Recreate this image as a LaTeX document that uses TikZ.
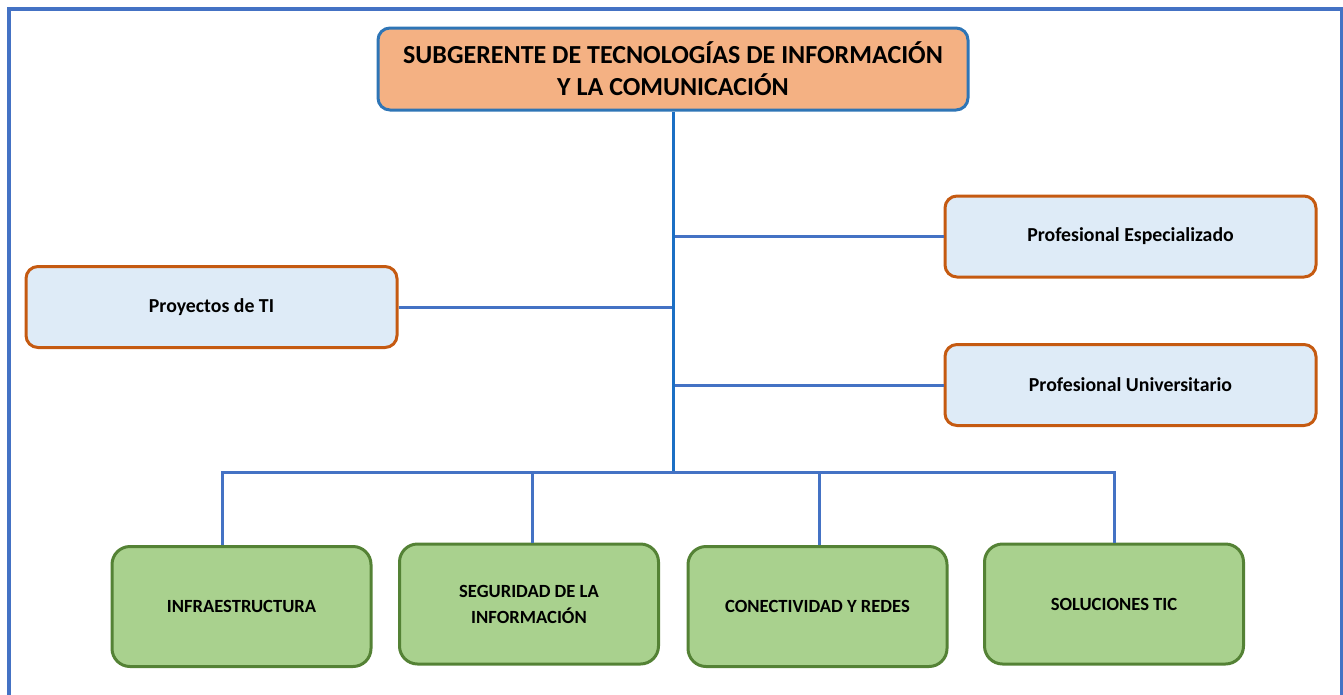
\documentclass[tikz,border=0pt]{standalone}
\usepackage{fontspec}
\setmainfont{Carlito}
\usepackage{xcolor}
\usetikzlibrary{positioning}
\usetikzlibrary{calc}

\definecolor{linkblue}{HTML}{4472C4}
\definecolor{trunkblue}{HTML}{1B6FC4}
\definecolor{headblue}{HTML}{2E75B6}
\definecolor{headfill}{HTML}{F4B183}
\definecolor{staffline}{HTML}{C55A11}
\definecolor{stafffill}{HTML}{DEEBF7}
\definecolor{arealine}{HTML}{548235}
\definecolor{areafill}{HTML}{A9D18E}

\begin{document}
\begin{tikzpicture}[x=1pt, y=-1pt, font=\bfseries, line width=3pt,
  head/.style={rounded corners=12pt, draw=headblue, fill=headfill, text=black, minimum width=590pt, minimum height=82pt, align=center, font=\fontsize{26}{32}\selectfont\bfseries},
  staff/.style={rounded corners=12pt, draw=staffline, fill=stafffill, text=black, minimum width=371pt, minimum height=81pt, font=\fontsize{19.8}{24}\selectfont\bfseries},
  area/.style={rounded corners=18pt, draw=arealine, fill=areafill, text=black, minimum width=259pt, minimum height=120pt, align=center, font=\fontsize{18.6}{26}\selectfont\bfseries},
  link/.style={draw=linkblue, line width=3pt}]
		\useasboundingbox (0,0) rectangle (1343,694);
		\draw[linkblue, line width=4pt] (9,700) -- (9,9) -- (1341.5,9) -- (1341.5,700);
		\node[head] (sub) at (673,69) {SUBGERENTE DE TECNOLOGÍAS DE INFORMACIÓN\\Y LA COMUNICACIÓN};
		\node[staff] (esp) at (1130.5,236.5) {Profesional Especializado};
		\node[staff] (proy) at (211.5,307) {Proyectos de TI};
		\node[staff] (univ) at (1130.5,385) {Profesional Universitario};
		\node[area] (infra) at (241.5,606.5) {INFRAESTRUCTURA};
		\node[area] (seg) at (529,604) {SEGURIDAD DE LA\\INFORMACIÓN};
		\node[area] (con) at (817.5,606.5) {CONECTIVIDAD Y REDES};
		\node[area] (sol) at (1114,604) {SOLUCIONES TIC};
		\coordinate (bus) at (673,472);
		% ramas y tronco
		\path[link] (esp.west) edge (esp.west -| bus)
		(proy.east) edge (proy.east -| bus)
		(univ.west) edge (univ.west -| bus);
		\draw[link] ([xshift=-19.5pt]infra.north) |- (bus) -| (sol.north);
		\draw[link] ([xshift=3pt]seg.north) -- ++(0,-72);
		\draw[link] ([xshift=1.5pt]con.north) -- ++(0,-74);
		\draw[link, trunkblue] (sub.south) -- ([yshift=1.5pt]bus);
\end{tikzpicture}
\end{document}
